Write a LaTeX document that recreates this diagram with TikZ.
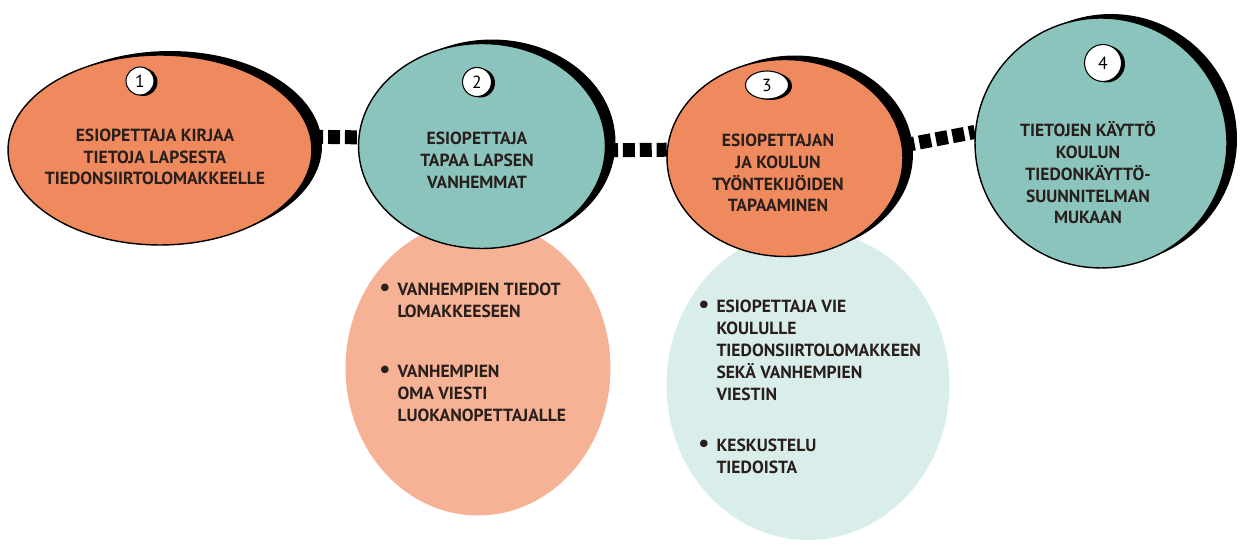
\documentclass[tikz,border=0pt]{standalone}
\usepackage{fontspec}
\setmainfont{PT Sans}
\usetikzlibrary{shapes.geometric,shadows,backgrounds}
\definecolor{steporange}{RGB}{239,138,94}
\definecolor{stepteal}{RGB}{138,196,189}
\definecolor{notesalmon}{RGB}{245,178,148}
\definecolor{notemint}{RGB}{217,237,234}
\definecolor{ink}{RGB}{40,30,28}
\newcommand{\pointlist}[1]{\begin{tabular}[t]{@{}l@{\hspace{4pt}}l@{}}{\fontsize{14}{12}\selectfont\textbullet} & #1\end{tabular}}

\begin{document}
\begin{tikzpicture}[x=0.02cm,y=-0.02cm,
      blob/.style={ellipse,draw=black,line width=0.8pt,inner sep=0pt,
        drop shadow={shadow xshift=0.2cm,shadow yshift=0.08cm,fill=black,opacity=1}},
      note/.style={ellipse,inner sep=0pt},
      badge/.style={ellipse,draw=black,fill=white,line width=0.6pt,inner sep=0pt,
        font=\fontsize{10}{10}\selectfont,
        drop shadow={shadow xshift=0.07cm,shadow yshift=-0.02cm,fill=black,opacity=1}},
      txt/.style={align=center,text=ink,font=\bfseries\fontsize{10}{12.4}\selectfont},
      itm/.style={anchor=base west,inner sep=0pt,text=ink,font=\bfseries\fontsize{10}{12.4}\selectfont},
      link/.style={line width=0.28cm,dash pattern=on 6.8pt off 2.8pt}]
    \useasboundingbox (0,0) rectangle (1251,546);

    \node[note,fill=notesalmon,minimum width=5.3cm,minimum height=5.9cm] (n2) at (478,368) {};
    \node[note,fill=notemint,minimum width=5.66cm,minimum height=6.2cm] (n3) at (808,385) {};

    \node[blob,fill=steporange,minimum width=6.08cm,minimum height=3.8cm] (b1) at (160,150) {};
    \node[blob,fill=stepteal,minimum width=4.94cm,minimum height=4.1cm] (b2) at (482,146) {};
    \node[blob,fill=steporange,minimum width=4.72cm,minimum height=3.94cm] (b3) at (785,158) {};
    \node[blob,fill=stepteal,minimum width=5.04cm,minimum height=5cm] (b4) at (1101,143) {};

    \node[badge,minimum width=0.56cm,minimum height=0.56cm] (c1) at (140,81) {1};
    \node[badge,minimum width=0.58cm,minimum height=0.58cm] (c2) at (477,82) {2};
    \node[badge,minimum width=0.86cm,minimum height=0.56cm] (c3) at (767,85) {3};
    \node[badge,minimum width=0.74cm,minimum height=0.74cm] (c4) at (1103,63) {4};

    \node[txt] (t1) at (155,157) {ESIOPETTAJA KIRJAA\\TIETOJA LAPSESTA\\TIEDONSIIRTOLOMAKKEELLE};
    \node[txt] (t2) at (477,160) {ESIOPETTAJA\\TAPAA LAPSEN\\VANHEMMAT};
    \node[txt] (t3) at (778,173) {ESIOPETTAJAN\\JA KOULUN\\TYÖNTEKIJÖIDEN\\TAPAAMINEN};
    \node[txt] (t4) at (1088,173) {TIETOJEN KÄYTTÖ\\KOULUN\\TIEDONKÄYTTÖ-\\SUUNNITELMAN\\MUKAAN};

    \node[itm] (i21) at (379,296) {\pointlist{VANHEMPIEN TIEDOT\\ & LOMAKKEESEEN}};
    \node[itm] (i22) at (379,378) {\pointlist{VANHEMPIEN\\ & OMA VIESTI\\ & LUOKANOPETTAJALLE}};
    \node[itm] (i31) at (698,313) {\pointlist{ESIOPETTAJA VIE\\ & KOULULLE\\ & TIEDONSIIRTOLOMAKKEEN\\ & SEKÄ VANHEMPIEN\\ & VIESTIN}};
    \node[itm] (i32) at (698,452) {\pointlist{KESKUSTELU\\ & TIEDOISTA}};

    \begin{scope}[on background layer]
      \draw[link] (b1.5) -- (b2.176);
      \draw[link] (b2.-2) -- (b3.176);
      \draw[link] (b3.6) -- (b4.175);
    \end{scope}
  \end{tikzpicture}
\end{document}
